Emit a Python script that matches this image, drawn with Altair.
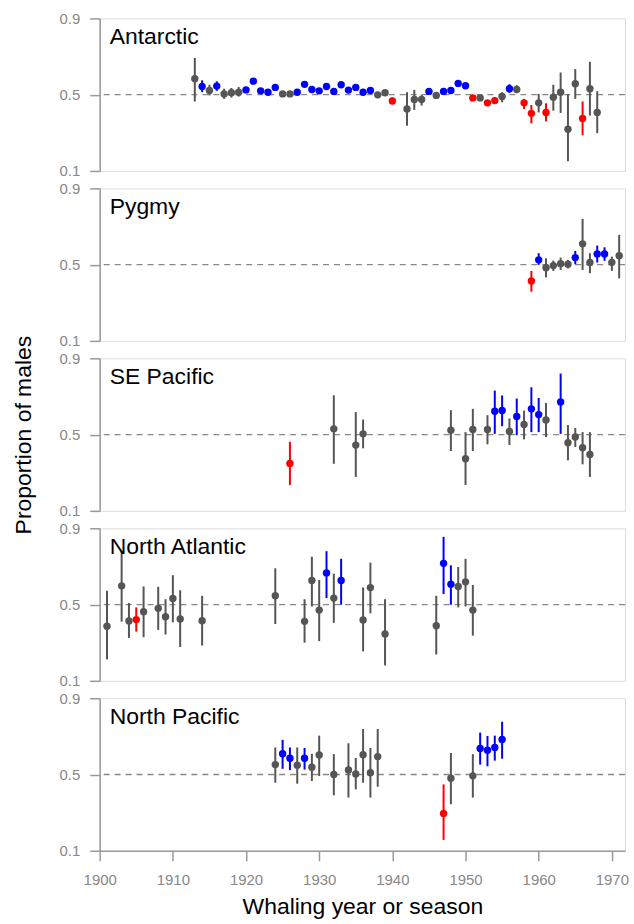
import altair as alt
import pandas as pd

FONT = "Liberation Sans"

# ---------------- data ----------------
ant_year = [1913, 1914, 1915, 1916, 1917, 1918, 1919, 1920, 1921, 1922, 1923, 1924, 1925, 1926,
            1927, 1928, 1929, 1930, 1931, 1932, 1933, 1934, 1935, 1936, 1937, 1938, 1939, 1940,
            1942, 1943, 1944, 1945, 1946, 1947, 1948, 1949, 1950, 1951, 1952, 1953, 1954, 1955,
            1956, 1957, 1958, 1959, 1960, 1961, 1962, 1963, 1964, 1965, 1966, 1967, 1968]
ant_val = [0.584, 0.543, 0.522, 0.545, 0.504, 0.510, 0.513, 0.525, 0.571, 0.520, 0.513, 0.538, 0.504, 0.504,
           0.513, 0.554, 0.527, 0.520, 0.543, 0.517, 0.552, 0.524, 0.538, 0.513, 0.522, 0.499, 0.510, 0.467,
           0.425, 0.475, 0.475, 0.517, 0.496, 0.517, 0.522, 0.559, 0.547, 0.483, 0.483, 0.457, 0.469, 0.490,
           0.531, 0.527, 0.457, 0.402, 0.457, 0.407, 0.487, 0.513, 0.319, 0.557, 0.375, 0.531, 0.407]
ant_lo = [0.464, 0.513, 0.496, 0.520, 0.478, 0.485, 0.490, 0.510, 0.555, 0.505, 0.500, 0.523, 0.490, 0.490,
          0.500, 0.540, 0.513, 0.507, 0.530, 0.504, 0.538, 0.510, 0.524, 0.500, 0.508, 0.485, 0.496, 0.450,
          0.337, 0.420, 0.443, 0.503, 0.482, 0.503, 0.508, 0.545, 0.533, 0.469, 0.469, 0.443, 0.452, 0.460,
          0.510, 0.510, 0.425, 0.349, 0.407, 0.360, 0.416, 0.404, 0.151, 0.478, 0.287, 0.390, 0.298]
ant_hi = [0.693, 0.575, 0.552, 0.570, 0.531, 0.535, 0.540, 0.540, 0.585, 0.535, 0.528, 0.553, 0.518, 0.518,
          0.526, 0.568, 0.540, 0.533, 0.556, 0.530, 0.566, 0.538, 0.552, 0.526, 0.536, 0.513, 0.524, 0.485,
          0.513, 0.525, 0.499, 0.531, 0.510, 0.531, 0.536, 0.573, 0.561, 0.497, 0.497, 0.471, 0.486, 0.513,
          0.555, 0.550, 0.478, 0.446, 0.504, 0.455, 0.552, 0.616, 0.504, 0.634, 0.464, 0.672, 0.518]
ant_col = ["g", "b", "g", "b", "g", "g", "g", "b", "b", "b", "b", "b", "g", "g",
           "b", "b", "b", "b", "b", "b", "b", "b", "b", "b", "b", "g", "g", "r",
           "g", "g", "g", "b", "g", "b", "b", "b", "b", "r", "g", "r", "r", "g",
           "b", "g", "r", "r", "g", "r", "g", "g", "g", "g", "r", "g", "g"]

pyg_year = [1959, 1960, 1961, 1962, 1963, 1964, 1965, 1966, 1967, 1968, 1969, 1970, 1971]
pyg_val = [0.414, 0.525, 0.484, 0.495, 0.505, 0.502, 0.537, 0.609, 0.511, 0.556, 0.556, 0.512, 0.547]
pyg_lo = [0.358, 0.499, 0.433, 0.467, 0.472, 0.480, 0.502, 0.472, 0.455, 0.511, 0.520, 0.467, 0.428]
pyg_hi = [0.467, 0.560, 0.533, 0.521, 0.537, 0.525, 0.572, 0.740, 0.560, 0.600, 0.591, 0.542, 0.656]
pyg_col = ["r", "b", "g", "g", "g", "g", "b", "g", "g", "b", "b", "g", "g"]

sep_year = [1926, 1932, 1935, 1936, 1948, 1950, 1951, 1953, 1954, 1955, 1956, 1957, 1958, 1959,
            1960, 1961, 1963, 1964, 1965, 1966, 1967]
sep_val = [0.349, 0.530, 0.445, 0.504, 0.523, 0.373, 0.527, 0.527, 0.623, 0.626, 0.516, 0.595, 0.553, 0.635,
           0.605, 0.577, 0.671, 0.457, 0.487, 0.431, 0.396]
sep_lo = [0.236, 0.347, 0.278, 0.428, 0.414, 0.236, 0.414, 0.449, 0.504, 0.544, 0.445, 0.497, 0.475, 0.513,
          0.513, 0.487, 0.504, 0.365, 0.435, 0.344, 0.278]
sep_hi = [0.462, 0.706, 0.618, 0.579, 0.628, 0.513, 0.635, 0.602, 0.731, 0.705, 0.585, 0.689, 0.626, 0.748,
          0.692, 0.666, 0.820, 0.550, 0.535, 0.513, 0.513]
sep_col = ["r", "g", "g", "g", "g", "g", "g", "g", "b", "b", "g", "b", "g", "b",
           "b", "g", "b", "g", "g", "g", "g"]

nat_year = [1901, 1903, 1904, 1905, 1906, 1908, 1909, 1910, 1911, 1914, 1924, 1928, 1929, 1930,
            1931, 1932, 1933, 1936, 1937, 1939, 1946, 1947, 1948, 1949, 1950, 1951]
nat_val = [0.386, 0.598, 0.414, 0.421, 0.462, 0.480, 0.436, 0.532, 0.424, 0.415, 0.546, 0.412, 0.626, 0.471,
           0.666, 0.534, 0.626, 0.419, 0.589, 0.346, 0.389, 0.716, 0.607, 0.595, 0.619, 0.471]
nat_lo = [0.212, 0.410, 0.325, 0.358, 0.329, 0.367, 0.343, 0.407, 0.277, 0.285, 0.398, 0.300, 0.490, 0.308,
          0.534, 0.404, 0.499, 0.254, 0.454, 0.181, 0.238, 0.555, 0.499, 0.485, 0.490, 0.337]
nat_hi = [0.572, 0.780, 0.508, 0.485, 0.595, 0.593, 0.528, 0.654, 0.575, 0.546, 0.690, 0.528, 0.751, 0.629,
          0.780, 0.662, 0.740, 0.590, 0.720, 0.528, 0.546, 0.855, 0.706, 0.697, 0.740, 0.603]
nat_col = ["g", "g", "g", "r", "g", "g", "g", "g", "g", "g", "g", "g", "g", "g",
           "b", "g", "b", "g", "g", "g", "g", "b", "b", "g", "g", "g"]

npa_year = [1924, 1925, 1926, 1927, 1928, 1929, 1930, 1932, 1934, 1935, 1936, 1937, 1938,
            1947, 1948, 1951, 1952, 1953, 1954, 1955]
npa_val = [0.552, 0.609, 0.585, 0.549, 0.585, 0.538, 0.602, 0.500, 0.524, 0.503, 0.604, 0.509, 0.594,
           0.296, 0.481, 0.493, 0.637, 0.627, 0.642, 0.684]
npa_lo = [0.457, 0.530, 0.523, 0.452, 0.526, 0.466, 0.492, 0.391, 0.379, 0.422, 0.457, 0.379, 0.436,
          0.157, 0.344, 0.379, 0.552, 0.543, 0.573, 0.583]
npa_hi = [0.642, 0.682, 0.642, 0.642, 0.639, 0.609, 0.704, 0.607, 0.664, 0.587, 0.739, 0.639, 0.739,
          0.448, 0.613, 0.607, 0.720, 0.702, 0.704, 0.777]
npa_col = ["g", "b", "b", "g", "b", "g", "g", "g", "g", "g", "g", "g", "g",
           "r", "g", "g", "b", "b", "b", "b"]

regions = ["Antarctic", "Pygmy", "SE Pacific", "North Atlantic", "North Pacific"]
x_ticks = [1900, 1910, 1920, 1930, 1940, 1950, 1960, 1970]
y_ticks = [0.1, 0.5, 0.9]

series = [
    (ant_year, ant_val, ant_lo, ant_hi, ant_col),
    (pyg_year, pyg_val, pyg_lo, pyg_hi, pyg_col),
    (sep_year, sep_val, sep_lo, sep_hi, sep_col),
    (nat_year, nat_val, nat_lo, nat_hi, nat_col),
    (npa_year, npa_val, npa_lo, npa_hi, npa_col),
]

# ---------------- chart ----------------
W, H = 527, 153
AX = "#999999"
color_scale = alt.Scale(domain=["g", "b", "r"], range=["#555555", "#0000FF", "#FF0000"])
x_scale = alt.Scale(domain=[1900, 1971.8], nice=False, zero=False)
y_scale = alt.Scale(domain=[0.1, 0.9], nice=False, zero=False)


def make_panel(i, name, yr, val, lo, hi, col):
    df = pd.DataFrame({"year": yr, "val": val, "lo": lo, "hi": hi, "col": col})
    bottom = i == len(regions) - 1
    if bottom:
        x_axis = alt.Axis(values=x_ticks, format="d", title="Whaling year or season",
                          titleFontSize=23, titleFont=FONT, titleColor="black",
                          titleFontWeight="normal", titlePadding=8,
                          labelFontSize=15, labelFont=FONT, labelColor="#888888",
                          labelPadding=12, tickSize=10, tickColor=AX, tickWidth=1.5,
                          domainColor=AX, domainWidth=1.5, grid=False, labelFlush=False)
    else:
        x_axis = None
    y_axis = alt.Axis(values=y_ticks, format=".1f",
                      title="Proportion of males" if i == 2 else None,
                      titleFontSize=23, titleFont=FONT, titleColor="black",
                      titleFontWeight="normal", titlePadding=24,
                      labelFontSize=15, labelFont=FONT, labelColor="#888888",
                      labelPadding=10, tickSize=10, tickColor=AX, tickWidth=1.5,
                      domainColor=AX, domainWidth=1.5, grid=False)
    base = alt.Chart(df)
    x = alt.X("year:Q", scale=x_scale, axis=x_axis)
    ref = alt.Chart(pd.DataFrame({"r": [0.5]})).mark_rule(
        color="#888888", strokeDash=[6, 5], strokeWidth=1.3
    ).encode(y=alt.Y("r:Q", scale=y_scale, axis=y_axis))
    bars = base.mark_rule(strokeWidth=2).encode(
        x=x,
        y=alt.Y("lo:Q", scale=y_scale),
        y2="hi:Q",
        color=alt.Color("col:N", scale=color_scale, legend=None),
    )
    pts = base.mark_circle(size=55, opacity=1).encode(
        x=x,
        y=alt.Y("val:Q", scale=y_scale),
        color=alt.Color("col:N", scale=color_scale, legend=None),
    )
    label = alt.Chart(pd.DataFrame({"t": [name]})).mark_text(
        align="left", baseline="alphabetic", fontSize=23, font=FONT, color="black"
    ).encode(x=alt.value(10), y=alt.value(26), text="t:N")
    return alt.layer(ref, bars, pts, label).properties(width=W, height=H)


panels = [make_panel(i, regions[i], *series[i]) for i in range(len(regions))]

chart = alt.vconcat(*panels, spacing=17.5, bounds="flush").properties(
    padding={"left": 11, "top": 9, "right": 5, "bottom": 5}
).configure_view(
    stroke=AX, strokeWidth=1.5
).configure(
    background="white"
)

chart.save("out.html", embed_options={"renderer": "svg", "actions": False})
